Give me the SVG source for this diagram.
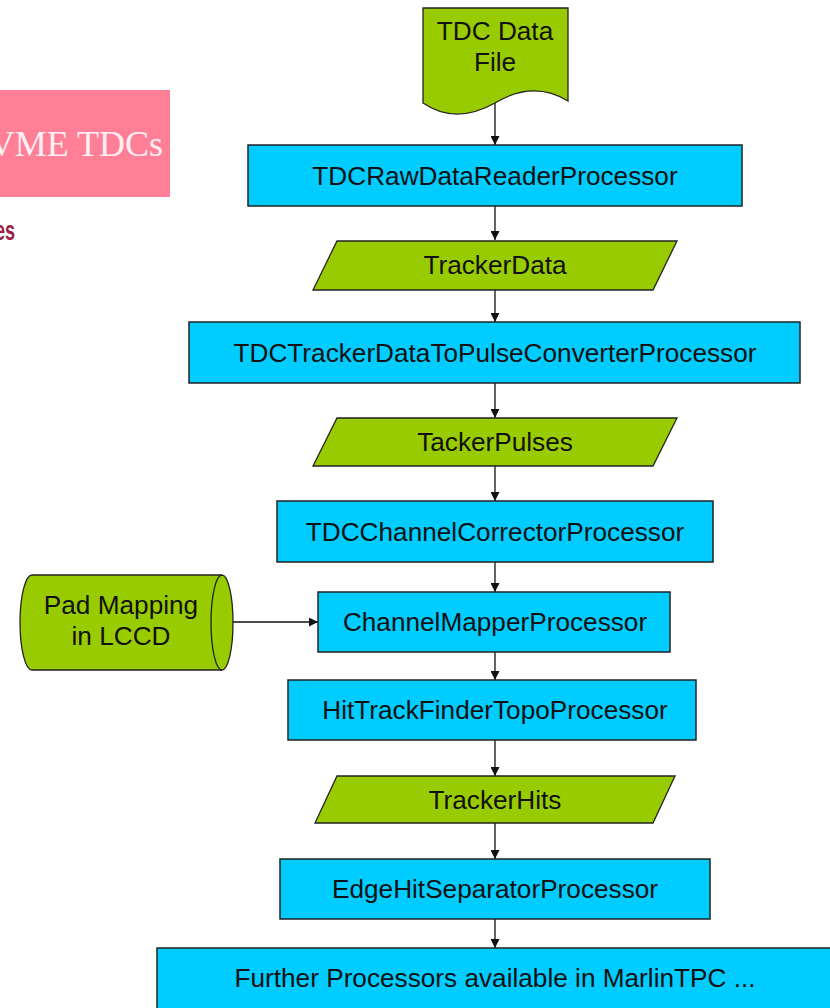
<svg xmlns="http://www.w3.org/2000/svg" width="830" height="1008" viewBox="0 0 830 1008">
<style>
.proc{fill:#00CCFF;stroke:#222;stroke-width:1.5}
.data{fill:#99CC00;stroke:#222;stroke-width:1.3}
.t{font-family:"Liberation Sans",Arial,sans-serif;font-size:26.2px;fill:#111;text-anchor:middle}
.c{stroke:#111;stroke-width:1.3;fill:none;marker-end:url(#ah)}
</style>
<defs>
<marker id="ah" viewBox="0 0 10 10" refX="10" refY="5" markerWidth="10" markerHeight="9" markerUnits="userSpaceOnUse" orient="auto">
<path d="M0,0 L10,5 L0,10 Z" fill="#111"/>
</marker>
</defs>
<rect width="830" height="1008" fill="#fff"/>
<g id="banner">
<rect x="-2" y="90" width="172" height="107" fill="#FF7F96"/>
<text x="163" y="156" text-anchor="end" font-family="'Liberation Serif','Times New Roman',serif" font-size="36" fill="#FFF0F4">VME TDCs</text>
<text transform="translate(15,240) scale(0.67,1)" x="0" y="0" text-anchor="end" font-family="'Liberation Sans',Arial,sans-serif" font-weight="bold" font-size="27" fill="#9A1F48">es</text>
</g>
<g id="connectors">
<line class="c" x1="495" y1="103" x2="495" y2="145"/>
<line class="c" x1="495" y1="206" x2="495" y2="240"/>
<line class="c" x1="495" y1="290" x2="495" y2="322"/>
<line class="c" x1="495" y1="383" x2="495" y2="418"/>
<line class="c" x1="495" y1="466" x2="495" y2="501"/>
<line class="c" x1="495" y1="562" x2="495" y2="592"/>
<line class="c" x1="495" y1="652" x2="495" y2="680"/>
<line class="c" x1="495" y1="740" x2="495" y2="776"/>
<line class="c" x1="495" y1="823" x2="495" y2="859"/>
<line class="c" x1="495" y1="919" x2="495" y2="948"/>
<line class="c" x1="222" y1="622" x2="318" y2="622"/>
</g>
<g id="tdc-data-file">
<path class="data" d="M423,8 L568,8 L568,101 C545,87 520,88 495,103 C470,117 445,118 423,103 Z"/>
<text class="t" x="495" y="40">TDC Data</text>
<text class="t" x="495" y="71">File</text>
</g>
<g id="raw-reader">
<rect class="proc" x="248" y="145" width="494" height="61"/>
<text class="t" x="495" y="185">TDCRawDataReaderProcessor</text>
</g>
<g id="tracker-data">
<path class="data" d="M337,241 L677,241 L653,290 L313,290 Z"/>
<text class="t" x="495" y="274">TrackerData</text>
</g>
<g id="pulse-converter">
<rect class="proc" x="189" y="322" width="611" height="61"/>
<text class="t" x="495" y="362">TDCTrackerDataToPulseConverterProcessor</text>
</g>
<g id="tacker-pulses">
<path class="data" d="M337,418 L677,418 L653,466 L313,466 Z"/>
<text class="t" x="495" y="451">TackerPulses</text>
</g>
<g id="channel-corrector">
<rect class="proc" x="277" y="501" width="436" height="61"/>
<text class="t" x="495" y="541">TDCChannelCorrectorProcessor</text>
</g>
<g id="pad-mapping">
<path class="data" d="M32,575 L222,575 A11,47.5 0 0 1 222,670 L32,670 A12,47.5 0 0 1 32,575 Z"/>
<path d="M222,575 A11,47.5 0 0 0 222,670" fill="none" stroke="#222" stroke-width="1.3"/>
<text class="t" x="121" y="614">Pad Mapping</text>
<text class="t" x="121" y="645">in LCCD</text>
</g>
<g id="channel-mapper">
<rect class="proc" x="318" y="592" width="352" height="60"/>
<text class="t" x="495" y="631">ChannelMapperProcessor</text>
</g>
<g id="hit-track-finder">
<rect class="proc" x="288" y="680" width="408" height="60"/>
<text class="t" x="495" y="719">HitTrackFinderTopoProcessor</text>
</g>
<g id="tracker-hits">
<path class="data" d="M337,776 L675,776 L653,823 L315,823 Z"/>
<text class="t" x="495" y="809">TrackerHits</text>
</g>
<g id="edge-hit-separator">
<rect class="proc" x="280" y="859" width="430" height="60"/>
<text class="t" x="495" y="898">EdgeHitSeparatorProcessor</text>
</g>
<g id="further-processors">
<rect class="proc" x="157" y="948" width="690" height="70"/>
<text class="t" x="495" y="987">Further Processors available in MarlinTPC ...</text>
</g>
</svg>
